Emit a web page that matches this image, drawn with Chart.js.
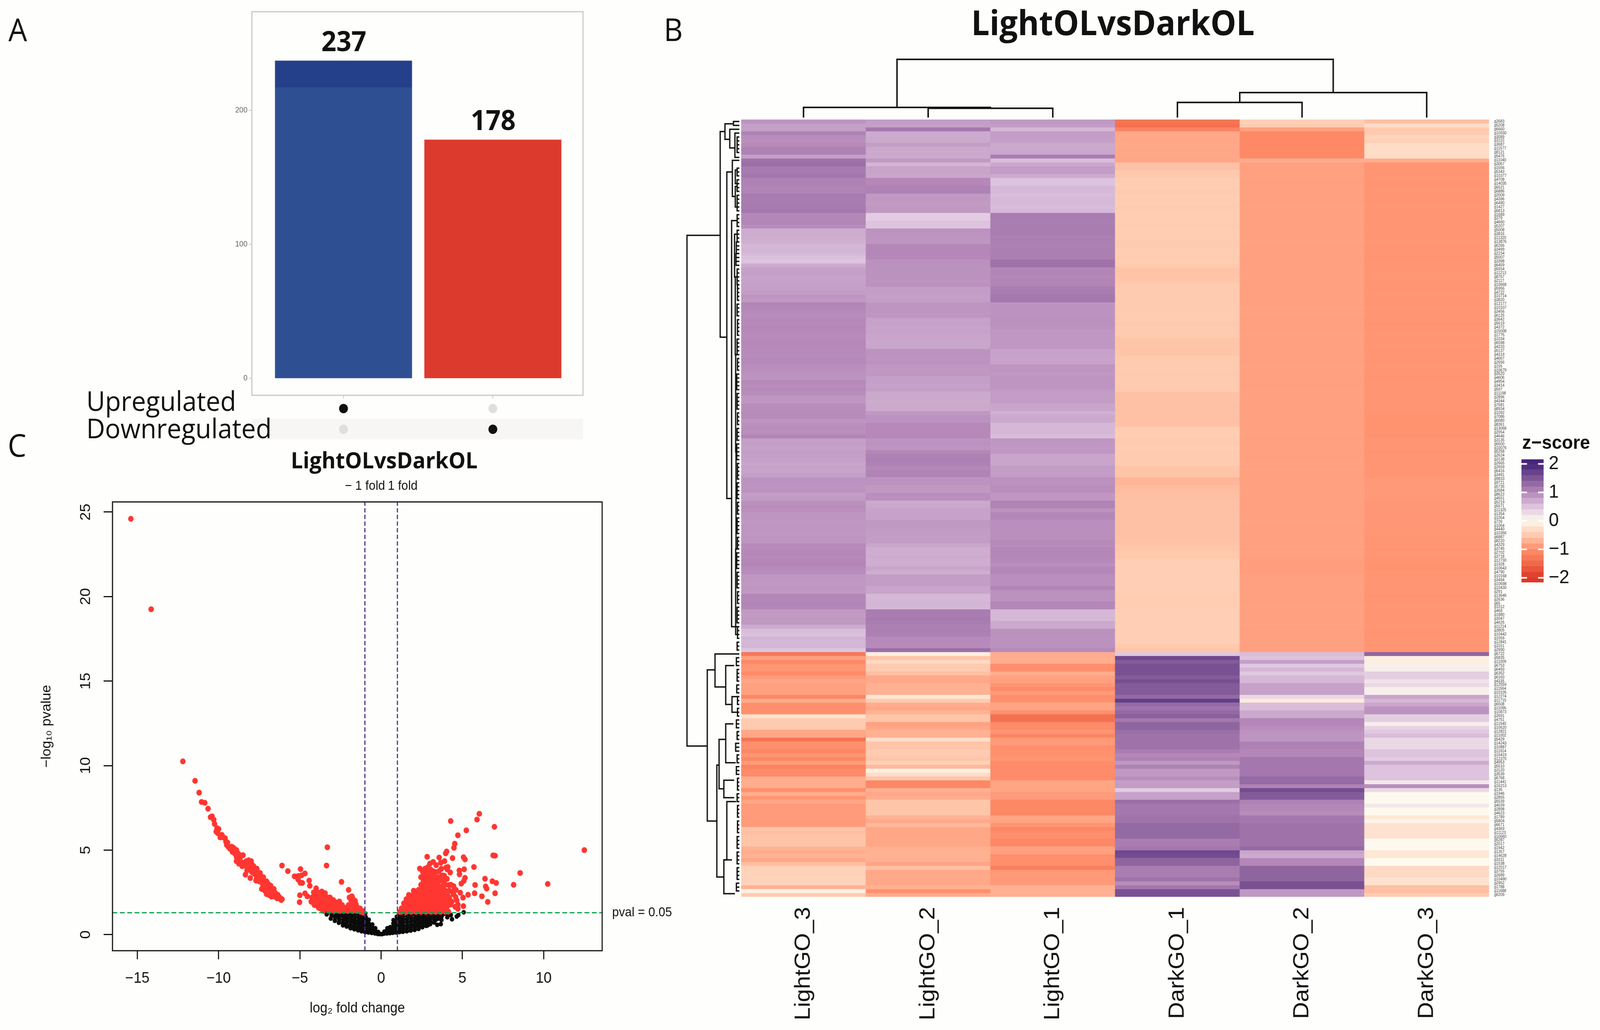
<!DOCTYPE html>
<html>
<head>
<meta charset="utf-8">
<title>LightOLvsDarkOL</title>
<script src="https://cdn.jsdelivr.net/npm/chart.js@4"></script>
<style>
  html { background: #fefefc; }
  body { margin: 0; width: 4339px; height: 2637px; transform-origin: 0 0; }
  canvas { position: absolute; }
  .t { position: absolute; z-index: 2; transform: translate(-50%, -50%); white-space: nowrap; color: #111; font-family: "Open Sans", sans-serif; line-height: 1; }
  .l { transform: translate(0, -50%); }
  .b { font-weight: 700; }
</style>
</head>
<body>
<div class="t" style="left:48px;top:74px;font-size:80px">A</div>
<div class="t" style="left:1826px;top:74px;font-size:80px">B</div>
<div class="t" style="left:46px;top:1138px;font-size:80px">C</div>
<div class="t b" style="left:3018px;top:56px;font-size:88px">LightOLvsDarkOL</div>
<div class="t b" style="left:1042px;top:1177px;font-size:58px">LightOLvsDarkOL</div>
<div class="t l" style="left:234px;top:1025px;font-size:70px">Upregulated</div>
<div class="t l" style="left:234px;top:1095px;font-size:70px">Downregulated</div>
<div class="t l b" style="left:4128px;top:1132px;font-size:49px;font-family:'Liberation Sans'">z−score</div>

<canvas id="barChart" width="1040" height="1020" style="left:560px;top:10px"></canvas>
<canvas id="dotChart" width="898" height="105" style="left:683px;top:1020px"></canvas>
<canvas id="volcanoChart" width="1790" height="1427" style="left:60px;top:1210px"></canvas>
<canvas id="topDendro" width="2028" height="161" style="left:2010px;top:140px"></canvas>
<canvas id="leftDendro" width="155" height="1990" style="left:1850px;top:306px"></canvas>
<canvas id="heatChart" width="2100" height="2331" style="left:2010px;top:306px"></canvas>
<canvas id="colorbar" width="200" height="360" style="left:4126px;top:1150px"></canvas>

<script>
// the layout below is in reference pixels; fit it if the window came out smaller
document.body.style.transform =
  `scale(${Math.min(1, window.innerWidth / 4339)}, ${Math.min(1, window.innerHeight / 2637)})`;

// ── Panel A: counts ───────────────────────────────────────────
const regulationLabels = ['Upregulated', 'Downregulated'];
const degCounts = [237, 178];
const upBandSplit = 217;          // blue bar turns darker above this count
const barTicks = [0, 100, 200];

// ── Panel C: volcano points [log2 fold change, -log10 pvalue] ─
const foldThresholds = [-1, 1];
const pvalThreshold = 1.3;
const volcanoXTicks = [-15, -10, -5, 0, 5, 10];
const volcanoYTicks = [0, 5, 10, 15, 20, 25];

const redTrail = [
  [-15.4,24.6],[-14.15,19.25],[-12.2,10.25],[-11.45,9.1],[-11.2,8.4],[-11.05,7.85],[-10.85,7.8],[-10.65,7.45],
  [-10.5,6.95],[-10.4,7.0],[-10.3,6.8],[-10.25,6.55],[-10.1,6.3],[-10.0,6.25],[-10.15,6.1],[-10.05,6.0],
  [-9.9,5.75],[-9.8,5.9],[-9.7,5.75],[-9.6,5.7],[-9.55,5.5],[-9.45,5.45],[-9.5,5.3],[-9.4,5.2],[-9.3,5.08],
  [-9.2,5.2],[-9.1,5.15],[-9.0,5.05],[-8.9,5.0],[-9.15,4.9],[-9.0,4.8],[-8.85,4.85],[-8.75,4.75],[-8.9,4.6],
  [-8.6,4.65],[-8.5,4.7],[-8.75,4.5],[-8.9,4.35],[-8.75,4.2],[-8.55,4.05],[-8.6,4.3],[-8.15,4.4],[-8.0,4.35],
  [-8.3,4.35],[-8.1,4.2],[-7.95,4.15],[-8.05,3.95],[-7.9,3.95],[-7.85,4.05],[-7.75,3.85],[-7.65,3.9],[-8.35,3.55],
  [-8.05,3.35],[-7.95,3.7],[-7.8,3.6],[-7.6,3.65],[-7.45,3.65],[-7.65,3.4],[-7.4,3.45],[-7.25,3.4],[-7.5,3.15],
  [-7.35,3.25],[-7.2,3.2],[-7.05,3.15],[-7.3,3.0],[-7.15,3.0],[-6.95,3.0],[-6.8,2.9],[-7.25,2.85],[-7.1,2.8],
  [-6.95,2.75],[-6.75,2.75],[-6.6,2.7],[-7.15,2.6],[-7.0,2.55],[-6.8,2.55],[-6.6,2.5],[-7.05,2.4],[-6.9,2.35],
  [-6.75,2.25],[-6.5,2.45],[-6.35,2.35],[-6.4,2.15],[-6.25,2.2],[-6.15,2.05],[-6.1,2.1],
  [-8.45,4.2],[-8.3,4.05],[-8.25,3.8],[-7.7,3.2],[-7.5,3.5],[-7.35,2.7],[-6.55,2.25],[-6.9,2.6],
];
const redLeft = [
  [-6.1,4.09],[-5.74,3.76],[-4.96,3.88],[-4.69,3.62],[-5.33,3.45],[-5.11,3.47],[-4.9,3.51],[-5.11,3.26],[-4.97,3.07],
  [-4.85,3.06],[-4.43,3.2],[-4.39,2.89],[-4.0,2.74],[-3.31,5.17],[-3.36,4.09],[-2.44,3.12],[-2.0,2.65],[-5.0,2.33],
  [-5.02,1.92],[-4.68,2.44],[-4.54,2.27],[-4.25,2.2],[-4.15,2.5],[-4.1,2.1],[-4.1,1.75],[-4.0,2.4],[-3.95,2.0],
  [-3.9,1.75],[-3.85,2.25],[-3.75,1.95],[-3.75,1.55],[-3.7,2.35],[-3.65,2.55],[-3.6,2.1],[-3.6,1.75],[-3.55,1.4],
  [-3.5,2.3],[-3.4,1.95],[-3.4,1.55],[-3.3,2.2],[-3.25,1.8],[-3.2,1.4],[-3.15,2.2],[-3.05,1.95],[-3.05,1.6],
  [-2.95,1.75],[-2.9,1.4],[-2.8,1.75],[-2.75,1.5],[-2.65,1.65],[-2.55,1.4],[-2.45,1.55],[-2.3,1.4],[-2.2,1.45],
  [-2.05,1.4],[-4.2,1.9],[-2.57,1.96],[-2.0,1.75],[-1.95,1.45],[-1.9,1.6],[-1.85,2.05],[-1.85,1.85],[-1.8,2.27],
  [-1.75,1.4],[-1.7,1.95],[-1.65,1.6],[-1.55,1.8],[-1.5,1.4],[-1.45,1.6],[-1.3,1.55],[-1.25,1.35],[-1.15,1.4],[-1.1,1.3],
  [-4.3,1.95],[-3.85,1.6],[-3.9,2.5],[-3.45,2.45],[-3.6,1.45],[-3.3,1.65],[-3.1,1.45],[-2.95,2.05],[-2.85,1.95],
  [-3.45,1.7],[-3.25,2.0],[-2.65,1.45],[-2.4,1.75],[-2.15,1.6],[-1.95,2.2],[-1.75,2.15],[-1.6,2.0],
];
const redRight = [
  [6.04,7.15],[5.9,6.81],[4.28,6.72],[6.97,6.38],[5.24,6.17],[4.72,5.88],[4.53,5.38],[4.48,5.14],[4.03,4.92],[3.97,4.81],
  [2.83,4.61],[3.57,4.56],[4.39,4.53],[5.07,4.58],[5.16,4.45],[6.89,4.69],[7.01,4.67],[3.9,4.35],[3.67,4.26],[3.39,4.11],
  [2.38,3.91],[2.87,3.99],[5.71,4.0],[5.11,3.87],[4.81,3.8],[4.82,3.57],[4.0,3.97],[4.1,4.0],[4.07,3.86],[4.25,3.68],
  [3.88,3.49],[5.16,3.36],[5.09,3.18],[4.93,3.02],[6.39,3.31],[6.84,3.16],[7.08,3.06],[5.78,2.94],[8.15,2.95],[8.55,3.65],
  [10.25,3.0],[12.5,5.0],[6.43,2.85],[6.49,2.73],[5.75,2.45],[7.01,2.45],[5.35,2.36],[6.2,2.27],[6.56,1.94],[4.46,2.87],
  [4.17,2.93],[4.87,2.48],[5.04,2.19],[4.58,2.23],[4.2,2.19],[4.65,2.03],[4.72,1.78],[5.06,1.69],[4.72,1.53],[4.26,1.78],
  [4.03,1.61],[4.14,1.36],[4.38,2.55],
  [1.15,1.35],[1.25,1.35],[1.25,1.55],[1.4,1.4],[1.4,1.65],[1.4,1.85],[1.55,1.35],[1.55,1.6],[1.55,1.85],[1.55,2.1],
  [1.7,1.4],[1.7,1.65],[1.7,1.9],[1.7,2.15],[1.7,2.35],[1.85,1.35],[1.85,1.6],[1.85,1.85],[1.85,2.1],[1.85,2.3],
  [2.0,1.4],[2.0,1.65],[2.0,1.9],[2.0,2.15],[2.0,2.4],[2.0,2.6],[2.15,1.35],[2.15,1.6],[2.15,1.85],[2.15,2.1],[2.15,2.35],[2.15,2.55],
  [2.3,1.4],[2.3,1.65],[2.3,1.9],[2.3,2.15],[2.3,2.4],[2.3,2.65],[2.45,1.35],[2.45,1.6],[2.45,1.85],[2.45,2.1],[2.45,2.35],[2.45,2.6],[2.45,2.95],[2.45,3.4],
  [2.6,1.4],[2.6,1.65],[2.6,1.9],[2.6,2.15],[2.6,2.4],[2.6,2.65],[2.6,2.9],[2.6,3.15],[2.6,3.55],
  [2.75,1.35],[2.75,1.6],[2.75,1.85],[2.75,2.1],[2.75,2.35],[2.75,2.6],[2.75,2.85],[2.75,3.1],[2.75,3.35],[2.75,3.65],
  [2.9,1.4],[2.9,1.65],[2.9,1.9],[2.9,2.15],[2.9,2.4],[2.9,2.65],[2.9,2.9],[2.9,3.15],[2.9,3.4],[2.9,3.75],
  [3.05,1.35],[3.05,1.6],[3.05,1.85],[3.05,2.1],[3.05,2.35],[3.05,2.6],[3.05,2.85],[3.05,3.1],[3.05,3.35],[3.05,3.6],[3.05,3.85],
  [3.2,1.4],[3.2,1.65],[3.2,1.9],[3.2,2.15],[3.2,2.4],[3.2,2.65],[3.2,2.9],[3.2,3.15],[3.2,3.45],[3.2,3.75],
  [3.35,1.35],[3.35,1.6],[3.35,1.85],[3.35,2.1],[3.35,2.35],[3.35,2.6],[3.35,2.85],[3.35,3.1],[3.35,3.35],[3.35,3.7],
  [3.5,1.4],[3.5,1.65],[3.5,1.9],[3.5,2.15],[3.5,2.4],[3.5,2.65],[3.5,2.9],[3.5,3.15],[3.5,3.4],
  [3.65,1.35],[3.65,1.6],[3.65,1.9],[3.65,2.2],[3.65,2.5],[3.65,2.8],[3.65,3.2],
  [3.8,1.4],[3.8,1.75],[3.8,2.05],[3.8,2.4],[3.8,2.65],[3.8,2.9],
  [3.95,1.35],[3.95,1.75],[3.95,2.25],[3.95,2.6],[4.1,2.3],
  [3.55,3.75],[3.7,3.9],[3.75,3.5],[3.9,3.2],[4.05,3.3],[3.95,2.95],[4.2,2.6],[4.3,2.95],[4.45,2.4],[4.1,1.95],
  [3.95,2.05],[4.35,1.95],[3.85,1.55],[4.0,1.4],[4.55,1.65],[4.6,2.65],[3.2,4.3],[3.0,4.2],[2.7,3.9],[2.55,3.75],
];
const blackPoints = [
  [-3.35,1.2],[-3.3,1.28],[-3.1,0.95],[-3.05,1.12],[-3.05,1.28],[-2.85,0.82],[-2.82,1.0],[-2.8,1.15],[-2.8,1.28],
  [-2.6,0.7],[-2.58,0.88],[-2.58,1.05],[-2.55,1.2],[-2.55,1.28],[-2.35,0.55],[-2.35,0.72],[-2.33,0.9],[-2.33,1.08],[-2.3,1.26],
  [-2.12,0.48],[-2.12,0.65],[-2.1,0.82],[-2.1,1.0],[-2.08,1.16],[-2.08,1.28],[-1.88,0.38],[-1.88,0.56],[-1.86,0.74],[-1.86,0.92],[-1.85,1.1],[-1.85,1.27],
  [-1.65,0.32],[-1.65,0.5],[-1.63,0.68],[-1.63,0.86],[-1.62,1.04],[-1.62,1.22],[-1.42,0.26],[-1.42,0.44],[-1.4,0.62],[-1.4,0.8],[-1.38,0.98],[-1.38,1.16],[-1.38,1.28],
  [-1.2,0.2],[-1.2,0.38],[-1.18,0.56],[-1.18,0.74],[-1.16,0.92],[-1.16,1.1],[-1.15,1.27],[-0.98,0.15],[-0.98,0.32],[-0.96,0.5],[-0.96,0.68],[-0.95,0.86],[-0.95,1.05],[-0.98,1.25],
  [-0.78,0.13],[-0.78,0.3],[-0.76,0.48],[-0.76,0.66],[-0.76,0.88],[-0.58,0.1],[-0.58,0.26],[-0.56,0.44],[-0.54,0.6],[-0.38,0.07],[-0.36,0.22],[-0.36,0.38],[-0.2,0.04],[-0.18,0.16],[-0.05,0.03],
  [0.05,0.03],[0.18,0.06],[0.2,0.18],[0.36,0.07],[0.36,0.22],[0.38,0.38],[0.54,0.09],[0.54,0.26],[0.56,0.44],[0.72,0.11],[0.72,0.28],[0.74,0.46],[0.75,0.66],[0.76,0.86],
  [0.92,0.13],[0.92,0.3],[0.94,0.48],[0.94,0.66],[0.95,0.86],[0.96,1.06],[1.12,0.15],[1.12,0.32],[1.14,0.5],[1.14,0.68],[1.15,0.86],[1.15,1.04],[1.16,1.22],
  [1.34,0.17],[1.34,0.34],[1.35,0.52],[1.35,0.7],[1.36,0.88],[1.36,1.06],[1.36,1.26],[1.58,0.2],[1.58,0.38],[1.6,0.56],[1.6,0.74],[1.6,0.92],[1.62,1.1],[1.62,1.28],
  [1.82,0.24],[1.82,0.42],[1.84,0.6],[1.84,0.78],[1.85,0.96],[1.85,1.14],[1.85,1.28],[2.06,0.28],[2.06,0.46],[2.08,0.64],[2.08,0.82],[2.1,1.0],[2.1,1.18],[2.1,1.28],
  [2.3,0.34],[2.3,0.52],[2.32,0.7],[2.32,0.88],[2.34,1.06],[2.34,1.24],[2.54,0.44],[2.54,0.62],[2.56,0.8],[2.56,0.98],[2.58,1.16],[2.58,1.28],
  [2.78,0.52],[2.78,0.7],[2.8,0.88],[2.8,1.06],[2.82,1.24],[2.86,0.55],[3.02,0.62],[3.02,0.8],[3.04,0.98],[3.04,1.16],[3.06,1.28],
  [3.26,0.72],[3.28,0.9],[3.28,1.08],[3.3,1.26],[3.45,0.58],[3.67,0.62],[3.71,0.87],[3.35,0.87],[3.5,0.95],[3.52,1.12],[3.57,1.2],[3.72,1.08],[3.88,1.24],
  [4.36,0.91],[4.07,1.03],[4.29,1.16],[4.65,1.07],[4.75,1.16],[5.08,1.32],[4.1,1.2],
];

// ── Panel B: heatmap, one z-score per gene (top to bottom) ────
const sampleLabels = ['LightGO_3', 'LightGO_2', 'LightGO_1', 'DarkGO_1', 'DarkGO_2', 'DarkGO_3'];
const geneLabels = [
  'g2683','g5208','g6660','g10930','g3089','g3110','g3687','g11577','g8121','g5475',
  'g11040','g3067','g1556','g5343','g10377','g4708','g14035','g6521','g6886','g2009',
  'g4396','g6490','g1427','g6813','g1689','g379','g4660','g5207','g5008','g3816',
  'g11320','g13876','g6266','g3499','g2234','g5007','g3398','g6459','g5554','g11213',
  'g8767','g2117','g10668','g5956','g4722','g10714','g3820','g12177','g10107','g3456',
  'g6125','g3642','g5619','g4372','g15008','g1775','g1034','g6598','g4233','g5137',
  'g4319','g4667','g2656','g155','g10679','g3520','g4606','g4954','g3414','g597',
  'g11198','g2896','g4344','g7681','g8934','g1092','g7086','g6680','g8361','g13068',
  'g2054','g4646','g3135','g6500','g10076','g5258','g2624','g3138','g2665','g2659',
  'g6416','g3491','g9833','g9721','g5735','g3584','g8622','g4551','g5219','g5571',
  'g11325','g1354','g1054','g726','g1064','g4440','g10356','g6887','g8220','g4329',
  'g3745','g2702','g3718','g12730','g1928','g10643','g4790','g10168','g3494','g10698',
  'g10430','g291','g13646','g2636','g65','g1012','g468','g1880','g3047','g4626',
  'g11214','g3805','g10442','g1059','g12841','g3151','g2990','g6722','g5835','g11009',
  'g6753','g6493','g6352','g6160','g4335','g12559','g11564','g10105','g12274','g11715',
  'g6508','g11096','g10873','g2691','g4751','g11540','g10620','g12821','g11002','g5429',
  'g14243','g10887','g11914','g15419','g12370','g4953','g5510','g3120','g3539','g6768',
  'g11441','g16213','g136','g1946','g2855','g5539','g4039','g2898','g4623','g1789',
  'g5804','g6671','g4369','g11123','g10660','g5287','g2017','g1942','g1357','g14628',
  'g3311','g1538','g12017','g3755','g2689','g10490','g2952','g1788','g11688','g6209',
];
const lightGO3 = [
  .9,.8,.8,1.05,.95,.93,.97,1.05,1.05,.8,
  1.2,1.25,1.12,1.12,1.15,1.05,1.05,1.03,1.03,1.12,
  1.1,1.12,1.12,1.15,1,1,1.02,.95,.68,.7,
  .68,.66,.6,.62,.58,.52,.5,.7,.78,.8,
  .76,.78,.8,.8,.82,.88,.85,1.02,1,.98,
  .96,.98,.98,1,.98,.96,.98,1,.98,.98,
  .96,.98,.98,.95,.93,.92,.9,.98,.96,.98,
  .95,.87,.87,.95,.95,.97,.97,.88,.93,.95,
  .93,1.02,.8,.8,.78,.8,.8,.78,.75,.78,
  .76,.8,.9,.9,.88,.9,.82,.84,.92,.95,
  .93,.88,.88,.87,.88,.88,.87,.88,.88,.98,
  .98,1,.98,1,1.02,.97,.95,.87,.87,.85,
  .87,.85,1,1,1.02,1,.85,.83,.85,.85,
  .7,.55,.52,.62,.6,.62,.48,-1.3,-.85,-1.1,
  -.95,-.95,-1.05,-.9,-.8,-.85,-.85,-.85,-1.1,-.75,
  -1,-1,-1,-.25,-.5,-.5,-.5,-.8,-.8,-1.35,
  -1,-1,-1.1,-.95,-1.1,-.9,-1.15,-1.05,-1.05,-.75,
  -.75,-.75,-1,-.75,-.95,-.8,-.9,-.9,-.9,-.9,
  -.9,-.9,-.55,-.6,-.55,-.55,-.55,-.7,-.75,-.7,
  -.8,-.6,-.42,-.42,-.42,-.42,-.42,-.7,-.1,-.5,
];
const lightGO2 = [
  .82,.8,1.15,.7,.7,.72,.82,.72,.72,.72,
  .85,.62,.76,.76,.74,1,1,1.05,1.05,.85,
  .85,.83,.85,.85,.42,.42,.5,.5,.9,.9,
  .88,.88,1,1,1,.98,.92,.92,.92,.92,
  .92,.9,.92,.82,.82,.8,.82,.88,.88,.88,
  .88,.78,.78,.76,.78,.75,.75,.73,.75,.9,
  .9,.88,.9,.87,.85,.87,.8,.8,.78,.8,
  .72,.72,.7,.72,.72,.85,.9,.9,.98,.98,
  .98,.98,.9,.9,.88,1,1.05,1.07,1.05,1,
  1.03,1.03,.9,.9,.85,.85,.93,.93,.72,.74,
  .78,.78,.78,.85,.85,.83,.82,.82,.82,.75,
  .68,.68,.7,.68,.68,.75,.68,.82,.82,.82,
  .75,.75,.6,.6,.62,.6,1.1,1.1,1.12,1.1,
  1.08,1.08,1.06,.98,.98,.96,1.25,-.12,-.55,-.35,
  -.5,-.5,-.6,-.78,-.78,-.72,-.72,-.72,-.2,-.5,
  -.75,-.8,-.7,-.55,-.55,-.85,-.8,-.72,-.72,-.3,
  -.55,-.55,-.5,-.5,-.55,-.45,-.65,-.1,-.3,-.55,
  -1.1,-1.1,-.72,-.8,-.75,-.55,-.55,-.55,-.55,-.7,
  -.78,-.65,-.8,-.8,-.8,-.8,-.8,-.72,-.72,-.72,
  -.72,-.82,-.6,-.78,-.78,-.78,-.78,-.72,-1,-.75,
];
const lightGO1 = [
  .85,.82,.6,.82,.82,.8,.72,.72,.74,1.1,
  .55,.72,.82,.82,.7,.5,.5,.58,.58,.56,
  .58,.58,.56,.58,1.1,1.1,1.08,1.1,1.1,1.1,
  1.08,1.08,1.06,1.08,1.08,1.08,1.2,1.2,1.02,1.02,
  1,1.02,1.02,1.1,1.1,1.15,1.15,.9,.9,.9,
  .9,.92,.92,.9,.87,.87,.85,.87,.87,.78,
  .78,.76,.78,.88,.88,.86,.88,.88,.88,.86,
  .82,.82,.82,.75,.75,.66,.72,.72,.6,.6,
  .6,.55,.87,.87,.85,.87,.75,.75,.75,.82,
  .82,.82,.92,.92,.94,.94,.87,.87,1.03,1.03,
  .92,1,1,.93,.93,.93,.93,.93,.97,.97,
  1,1,1,.98,.93,1,1,.93,.93,.93,
  1.02,.92,.92,.92,1,1,.6,.6,.6,.72,
  .72,.92,.92,.9,.92,.92,.97,-.75,-.75,-.75,
  -1,-1,-.75,-.85,-.85,-.95,-1.05,-.9,-1,-1,
  -.82,-.82,-1,-1.4,-1.4,-1.05,-1.05,-.95,-1.12,-.92,
  -.92,-1,-.98,-.98,-.95,-1.05,-1.05,-1.05,-1.05,-1.05,
  -.82,-.82,-.82,-.9,-.9,-1.1,-1.1,-1.1,-1.1,-.82,
  -.82,-.95,-1.1,-1,-1,-1.1,-1.1,-.85,-.85,-1,
  -1,-1,-1.2,-.92,-.92,-.92,-.92,-.72,-.72,-.72,
];
const darkGO1 = [
  -1.35,-1.4,-1.15,-.8,-.8,-.8,-.78,-.8,-.8,-.8,
  -.82,-.58,-.58,-.52,-.52,-.48,-.48,-.48,-.5,-.48,
  -.48,-.48,-.5,-.48,-.48,-.48,-.48,-.5,-.48,-.48,
  -.48,-.5,-.5,-.48,-.48,-.5,-.48,-.5,-.56,-.56,
  -.56,-.54,-.5,-.5,-.5,-.5,-.5,-.5,-.5,-.5,
  -.5,-.5,-.52,-.5,-.5,-.5,-.55,-.55,-.55,-.55,
  -.55,-.5,-.5,-.5,-.5,-.52,-.5,-.5,-.5,-.5,
  -.58,-.58,-.58,-.6,-.58,-.58,-.58,-.58,-.58,-.48,
  -.48,-.48,-.5,-.5,-.48,-.5,-.5,-.5,-.5,-.55,
  -.55,-.55,-.68,-.68,-.62,-.62,-.6,-.6,-.58,-.58,
  -.58,-.58,-.58,-.58,-.58,-.58,-.58,-.58,-.58,-.55,
  -.55,-.52,-.52,-.47,-.47,-.47,-.47,-.47,-.47,-.47,
  -.47,-.47,-.48,-.48,-.48,-.48,-.47,-.47,-.47,-.47,
  -.47,-.47,-.47,-.47,-.47,-.52,-.55,.45,1.65,1.45,
  1.55,1.55,1.55,1.45,1.58,1.45,1.45,1.45,1.3,1.75,
  1.3,1.2,1.3,1.4,1.15,1.35,1.35,1.25,1.2,1.2,
  1.2,1.2,1.1,1,1.05,.85,1.05,.85,.85,.95,
  .82,.82,.42,.78,.78,1.25,1.15,1.15,1.15,1.2,
  1.2,1.3,1.3,1.3,1.3,1.1,1.1,1.15,1.65,1.6,
  1.35,1.35,1.1,1.1,1.1,1.2,.95,1.15,1.55,1.55,
];
const darkGO2 = [
  -.45,-.5,-.85,-1.08,-1.08,-1.08,-1.08,-1.08,-1.08,-1.08,
  -.75,-.85,-.85,-.85,-.85,-.85,-.87,-.85,-.85,-.85,
  -.85,-.85,-.84,-.85,-.85,-.85,-.85,-.86,-.85,-.85,
  -.85,-.84,-.85,-.85,-.85,-.86,-.85,-.85,-.85,-.85,
  -.84,-.85,-.85,-.86,-.85,-.85,-.85,-.85,-.84,-.85,
  -.85,-.85,-.86,-.85,-.85,-.84,-.85,-.85,-.85,-.86,
  -.85,-.85,-.85,-.84,-.85,-.85,-.86,-.85,-.85,-.85,
  -.85,-.84,-.85,-.85,-.85,-.86,-.85,-.85,-.85,-.85,
  -.84,-.85,-.85,-.86,-.85,-.85,-.85,-.85,-.84,-.85,
  -.85,-.85,-.86,-.85,-.85,-.84,-.85,-.85,-.85,-.86,
  -.85,-.85,-.85,-.84,-.85,-.85,-.86,-.85,-.85,-.85,
  -.85,-.84,-.85,-.88,-.88,-.88,-.88,-.85,-.85,-.85,
  -.85,-.85,-.86,-.85,-.85,-.84,-.85,-.85,-.85,-.85,
  -.85,-.85,-.86,-.85,-.85,-.85,-.85,.55,.5,.8,
  .45,.6,.45,.6,.6,.78,.78,.78,.3,-.15,
  .55,.55,.72,.72,1,1,.95,.9,.88,.88,
  1.05,1.05,1,1,1.15,1.15,1.15,1.15,1.15,1.3,
  1.3,1.05,1.6,1.45,1.45,1.05,1,1,.95,1.15,
  1.15,1.2,1.2,1.2,1.2,1.2,1.2,1.3,.75,.7,
  1,1,1.35,1.35,1.35,1.35,1.55,1.55,.85,.85,
];
const darkGO3 = [
  -.6,-.3,-.5,-.5,-.4,-.45,-.32,-.32,-.32,-.32,
  -.75,-.95,-.95,-.95,-.95,-.95,-.96,-.95,-.95,-.95,
  -.95,-.95,-.94,-.95,-.95,-.95,-.95,-.96,-.95,-.95,
  -.95,-.94,-.95,-.95,-.95,-.96,-.95,-.95,-.95,-.95,
  -.94,-.95,-.95,-.96,-.95,-.95,-.95,-.95,-.94,-.95,
  -.95,-.95,-.96,-.95,-.95,-.94,-.95,-.95,-.95,-.96,
  -.95,-.95,-.95,-.94,-.95,-.95,-.96,-.95,-.95,-.95,
  -.95,-.94,-.95,-.95,-.95,-.96,-.97,-.97,-.97,-.97,
  -.97,-.97,-.95,-.95,-.95,-.96,-.95,-.95,-.95,-.95,
  -.95,-.95,-.92,-.92,-.92,-.92,-.92,-.92,-.93,-.93,
  -.93,-.93,-.93,-.93,-.93,-.93,-.94,-.95,-.95,-.95,
  -.95,-.94,-.95,-.96,-.97,-.97,-.95,-.95,-.95,-.95,
  -.95,-.95,-.96,-.95,-.95,-.94,-.95,-.95,-.95,-.95,
  -.95,-.95,-.96,-.95,-.95,-.95,-.95,1.35,-.1,-.12,
  .08,.1,.4,.4,.2,.3,.1,.1,.75,.6,
  .75,.9,.9,.4,.4,.1,.35,.45,.55,.3,
  .3,.3,.5,.5,.42,.7,.5,.5,.5,.5,
  .15,.95,.3,0,0,0,.15,0,0,-.2,
  -.05,-.25,-.25,-.25,-.25,0,0,0,-.2,-.2,
  0,0,-.35,-.35,-.35,-.25,-.25,-.6,-.6,-.5,
];
const heatColumns = [lightGO3, lightGO2, lightGO1, darkGO1, darkGO2, darkGO3];
const colorbarTicks = [-2, -1, 0, 1, 2];
const colorbarEdges = [-2.16,-2,-1.8,-1.6,-1.4,-1.2,-1,-.8,-.6,-.4,-.2,0,.2,.4,.6,.8,1,1.2,1.4,1.6,1.8,2,2.16];

// sample tree: [left, right, left height, right height, height]
const sampleMerges = [
  [1, 2, 0, 0, .16],
  [0, 1.5, 0, .16, .175],
  [3, 4, 0, 0, .26],
  [3.5, 5, .26, 0, .43],
  [.75, 4.25, .175, .43, 1],
];
// gene tree: [top row, bottom row, distance, top child distance, bottom child distance]
const geneMerges = [
  [29.3, 160.7, 142, 52, 87],
  [2.6, 55.5, 52, 39, 34],
  [.6, 4.6, 39, 16, 26],
  [0, 1, 16, 0, 0],
  [2, 6.8, 26, 0, 12],
  [3, 9.25, 12, 0, 0],
  [13, 97, 34, 19, 21],
  [10, 19.3, 19, 0, 11],
  [12.5, 16, 11, 6, 6],
  [16.7, 22, 11, 6, 6],
  [25.5, 130, 21, 6, 6],
  [29, 40, 13, 6, 6],
  [40, 60, 11, 5, 6],
  [60, 85, 10, 6, 7],
  [85, 110, 9, 6, 5],
  [110, 132, 10, 6, 6],
  [141.1, 180, 87, 66, 61],
  [137, 145.5, 66, 0, 37],
  [140, 150, 37, 14, 20],
  [148, 152, 20, 5, 5],
  [165.6, 194.4, 61, 55, 42],
  [159, 171.7, 55, 37, 42],
  [155, 165, 37, 16, 10],
  [169.5, 174, 42, 14, 14],
  [190, 198.7, 42, 20, 12],
  [175, 190, 34, 9, 42],
];
// leaf groups: [first row, last row, distance]
const geneGroups = [
  [4,8,6],[12,14,6],[15,18,6],[19,23,6],[24,27,6],[28,31,6],[31,34,8],[34,37,9],[38,42,6],[42,46,5],
  [47,50,6],[51,55,5],[56,60,6],[61,64,5],[65,69,7],[70,74,6],[75,78,5],[79,82,6],[83,87,7],[88,92,5],
  [93,97,6],[98,101,5],[102,106,6],[107,110,5],[111,115,7],[116,120,6],[121,124,5],[125,129,6],[130,133,5],[134,136,6],
  [138,140,8],[141,144,6],[145,147,7],[148,150,5],[151,153,5],[154,156,8],[157,159,6],[160,162,10],[163,165,6],[166,168,8],
  [169,172,5],[173,175,6],[176,179,5],[180,183,5],[184,187,6],[188,191,6],[192,195,6],[196,198,8],
];

// ── Colours ───────────────────────────────────────────────────
const zStops = [
  [-2.16,[220,56,40]],[-2,[220,56,40]],[-1.5,[240,106,74]],[-1,[255,143,108]],[-.5,[255,203,176]],[0,[253,249,238]],
  [.5,[221,195,222]],[1,[180,135,184]],[1.5,[127,86,150]],[2,[69,37,122]],[2.16,[69,37,122]],
];
function zColor(z) {
  let i = 0;
  while (i < zStops.length - 2 && z > zStops[i + 1][0]) i++;
  const [z0, c0] = zStops[i];
  const [z1, c1] = zStops[i + 1];
  const f = Math.min(1, Math.max(0, (z - z0) / (z1 - z0)));
  const c = c0.map((v, k) => Math.round(v + (c1[k] - v) * f));
  return `rgb(${c[0]},${c[1]},${c[2]})`;
}

// ── Common defaults ───────────────────────────────────────────
Chart.defaults.animation = false;
Chart.defaults.responsive = false;
Chart.defaults.devicePixelRatio = 1;
Chart.defaults.layout.autoPadding = false;
Chart.defaults.plugins.legend.display = false;
Chart.defaults.plugins.tooltip.enabled = false;
Chart.defaults.font.family = "'Liberation Sans', sans-serif";
Chart.defaults.color = '#111';

const fixAxis = (size) => (s) => {
  if (s.isHorizontal()) s.height = size; else s.width = size;
  s.paddingLeft = s.paddingRight = s.paddingTop = s.paddingBottom = 0;
};
const frame = (color, width) => ({
  id: 'frame',
  afterDatasetsDraw(chart) {
    const { ctx, chartArea: a } = chart;
    ctx.save();
    ctx.strokeStyle = color;
    ctx.lineWidth = width;
    ctx.strokeRect(a.left, a.top, a.right - a.left, a.bottom - a.top);
    ctx.restore();
  },
});
const toXY = ([x, y]) => ({ x, y });

// ── Panel A: bars ─────────────────────────────────────────────
new Chart(document.getElementById('barChart'), {
  type: 'bar',
  data: {
    datasets: [
      { data: [{ x: 0, y: upBandSplit }], backgroundColor: '#2e5092' },
      { data: [{ x: 0, y: degCounts[0] - upBandSplit }], backgroundColor: '#25408a' },
      { data: [{ x: 1, y: degCounts[1] }], backgroundColor: '#dd3a2e' },
    ],
  },
  options: {
    layout: { padding: { top: 20, right: 19 } },
    datasets: { bar: { barThickness: 371, borderWidth: 0 } },
    scales: {
      x: {
        type: 'linear', stacked: true, offset: false, min: -0.6136, max: 1.6037,
        afterFit: fixAxis(18),
        border: { display: false },
        grid: { offset: false, drawOnChartArea: false, tickLength: 8, tickColor: '#c4c4c4', tickWidth: 2 },
        ticks: { stepSize: 1, includeBounds: false, display: false },
      },
      y: {
        stacked: true, min: -12.7, max: 273.6,
        afterFit: fixAxis(123),
        border: { display: false },
        grid: { drawOnChartArea: false, tickLength: 8, tickColor: '#c4c4c4', tickWidth: 2 },
        afterBuildTicks: (s) => { s.ticks = barTicks.map((value) => ({ value })); },
        ticks: { color: '#666', font: { size: 20 }, padding: 4 },
      },
    },
  },
  plugins: [frame('#c8c8c8', 3), {
    id: 'barValues',
    afterDatasetsDraw(chart) {
      const { ctx, scales } = chart;
      ctx.save();
      ctx.font = "700 71px 'Open Sans', sans-serif";
      ctx.fillStyle = '#111';
      ctx.textAlign = 'center';
      ctx.textBaseline = 'middle';
      degCounts.forEach((v, i) => {
        ctx.fillText(String(v), scales.x.getPixelForValue(i) + 1, scales.y.getPixelForValue(v) - 45);
      });
      ctx.restore();
    },
  }],
});

// ── Panel A: membership dots ──────────────────────────────────
const memberRows = regulationLabels.map((_, i) => 1 - i);
new Chart(document.getElementById('dotChart'), {
  type: 'scatter',
  data: {
    datasets: regulationLabels.map((label, col) => ({
      label,
      data: memberRows.map((y) => ({ x: col, y })),
      pointRadius: 12,
      pointBorderWidth: 0,
      pointBackgroundColor: memberRows.map((y, row) => (row === col ? '#111' : '#e0dfdf')),
    })),
  },
  options: {
    scales: {
      x: { type: 'linear', display: false, min: -0.6136, max: 1.6037 },
      y: { display: false, min: -0.49, max: 1.49 },
    },
  },
  plugins: [{
    id: 'rowBand',
    beforeDatasetsDraw(chart) {
      const { ctx, chartArea: a, scales } = chart;
      ctx.fillStyle = '#f8f6f4';
      const y = scales.y.getPixelForValue(0.5);
      ctx.fillRect(a.left, y, a.right - a.left, a.bottom - y);
    },
  }],
});

// ── Panel C: volcano ──────────────────────────────────────────
const xLo = -16.53, xHi = 13.6, yLo = -0.95, yHi = 25.6;
const guide = (points, color, dash) => ({
  data: points,
  showLine: true,
  pointRadius: 0,
  borderColor: color,
  borderWidth: 3,
  borderDash: dash,
});
new Chart(document.getElementById('volcanoChart'), {
  type: 'scatter',
  data: {
    datasets: [
      guide([{ x: xLo, y: pvalThreshold }, { x: xHi, y: pvalThreshold }], '#00a04a', [13, 7]),
      ...foldThresholds.map((x) => guide([{ x, y: yLo }, { x, y: yHi }], '#4b2a80', [11, 6])),
      { data: [...redTrail, ...redLeft, ...redRight].map(toXY), pointRadius: 7.5, pointBorderWidth: 0, pointBackgroundColor: '#ff3631' },
      { data: blackPoints.map(toXY), pointRadius: 6, pointBorderWidth: 0, pointBackgroundColor: '#0b0b0b' },
    ],
  },
  options: {
    layout: { padding: { top: 75, right: 217 } },
    scales: {
      x: {
        type: 'linear', min: xLo, max: xHi,
        afterFit: fixAxis(203),
        border: { display: false },
        grid: { drawOnChartArea: false, tickLength: 22, tickColor: '#111', tickWidth: 3 },
        afterBuildTicks: (s) => { s.ticks = volcanoXTicks.map((value) => ({ value })); },
        ticks: {
          color: '#111', font: { size: 39 }, padding: 26, maxRotation: 0,
          callback: (v) => String(v).replace('-', '−'),
        },
        title: { display: true, text: 'log₂ fold change', color: '#111', font: { size: 36 }, padding: { top: 0, bottom: 33 } },
      },
      y: {
        min: yLo, max: yHi,
        afterFit: fixAxis(245),
        border: { display: false },
        grid: { drawOnChartArea: false, tickLength: 24, tickColor: '#111', tickWidth: 3 },
        afterBuildTicks: (s) => { s.ticks = volcanoYTicks.map((value) => ({ value })); },
        ticks: { display: false },
        title: { display: true, text: '−log₁₀ pvalue', color: '#111', font: { size: 36 }, padding: { top: 45, bottom: 0 } },
      },
    },
  },
  plugins: [frame('#111', 3), {
    id: 'volcanoText',
    afterDraw(chart) {
      const { ctx, scales, canvas } = chart;
      const left = parseInt(canvas.style.left, 10);
      const top = parseInt(canvas.style.top, 10);
      ctx.save();
      ctx.fillStyle = '#111';
      ctx.textBaseline = 'middle';
      // R style y tick labels, rotated
      ctx.font = "39px 'Liberation Sans', sans-serif";
      ctx.textAlign = 'center';
      volcanoYTicks.forEach((v) => {
        ctx.save();
        ctx.translate(233 - left, scales.y.getPixelForValue(v));
        ctx.rotate(-Math.PI / 2);
        ctx.fillText(String(v), 0, 0);
        ctx.restore();
      });
      ctx.font = "33px 'Liberation Sans', sans-serif";
      ctx.fillText('− 1 fold', scales.x.getPixelForValue(foldThresholds[0]), 1245 - top);
      ctx.textAlign = 'left';
      ctx.fillText('1 fold', scales.x.getPixelForValue(foldThresholds[1]) - 26, 1245 - top);
      ctx.fillText('pval = 0.05', 1660 - left, scales.y.getPixelForValue(pvalThreshold));
      ctx.restore();
    },
  }],
});

// ── Panel B: heatmap, one stacked dataset per gene ────────────
new Chart(document.getElementById('heatChart'), {
  type: 'bar',
  data: {
    labels: sampleLabels,
    datasets: geneLabels.map((gene, row) => ({
      label: gene,
      data: sampleLabels.map(() => 1),
      backgroundColor: heatColumns.map((col) => zColor(col[row])),
      borderWidth: 0,
      barPercentage: 1,
      categoryPercentage: 1,
    })),
  },
  options: {
    scales: {
      x: {
        stacked: true,
        afterFit: fixAxis(341),
        border: { display: false },
        grid: { display: false, drawTicks: false },
        ticks: { color: '#111', font: { size: 60 }, padding: 26, minRotation: 90, maxRotation: 90, autoSkip: false },
      },
      y: { stacked: true, display: false, min: 0, max: geneLabels.length, reverse: true },
      genes: {
        type: 'category',
        labels: geneLabels,
        position: 'right',
        offset: true,
        afterFit: fixAxis(72),
        border: { display: false },
        grid: { display: false, drawTicks: false },
        ticks: { color: '#333', font: { size: 10 }, padding: 14, autoSkip: false, maxRotation: 0 },
      },
    },
  },
});

// ── Panel B: dendrograms ──────────────────────────────────────
const treeLine = (data, width) => ({ data, showLine: true, pointRadius: 0, borderColor: '#111', borderWidth: width, clip: false });

new Chart(document.getElementById('topDendro'), {
  type: 'scatter',
  data: {
    datasets: sampleMerges.map(([l, r, hl, hr, h]) => treeLine(
      [{ x: l, y: hl }, { x: l, y: h }, { x: r, y: h }, { x: r, y: hr }], 4)),
  },
  options: {
    scales: {
      x: { type: 'linear', display: false, min: -0.5, max: 5.5 },
      y: { display: false, min: 0, max: 1.08 },
    },
  },
});

const groupPath = ([first, last, d]) => {
  const pts = [];
  for (let r = first; r <= last; r++) {
    pts.push({ x: d, y: r + .5 }, { x: 0, y: r + .5 }, { x: d, y: r + .5 });
  }
  return pts;
};
new Chart(document.getElementById('leftDendro'), {
  type: 'scatter',
  data: {
    datasets: [
      ...geneMerges.map(([r1, r2, d, d1, d2]) => treeLine([
        { x: d1, y: r1 + .5 }, { x: d, y: r1 + .5 }, { x: d, y: r2 + .5 }, { x: d2, y: r2 + .5 },
      ], 3.5)),
      ...geneGroups.map((g) => treeLine(groupPath(g), 3.5)),
    ],
  },
  options: {
    scales: {
      x: { type: 'linear', display: false, min: 0, max: 155, reverse: true },
      y: { display: false, min: 0, max: geneLabels.length, reverse: true },
    },
  },
});

// ── Panel B: colour key ───────────────────────────────────────
new Chart(document.getElementById('colorbar'), {
  type: 'bar',
  data: {
    labels: ['z-score'],
    datasets: colorbarEdges.slice(1).map((hi, i) => ({
      data: [[colorbarEdges[i], hi]],
      backgroundColor: zColor((colorbarEdges[i] + hi) / 2),
      borderWidth: 0,
      barPercentage: 1,
      categoryPercentage: 1,
      grouped: false,
    })),
  },
  options: {
    layout: { padding: { top: 26, bottom: 19 } },
    scales: {
      x: { display: false },
      y: {
        position: 'right', min: -2.16, max: 2.16,
        afterFit: fixAxis(140),
        border: { display: false },
        grid: { display: false, drawTicks: false },
        afterBuildTicks: (s) => { s.ticks = colorbarTicks.map((value) => ({ value })); },
        ticks: {
          color: '#111', font: { size: 49 }, padding: 14,
          callback: (v) => String(v).replace('-', '−'),
        },
      },
    },
  },
  plugins: [{
    id: 'keyTicks',
    afterDatasetsDraw(chart) {
      const { ctx, chartArea: a, scales } = chart;
      ctx.save();
      ctx.fillStyle = '#fff';
      colorbarTicks.forEach((v) => {
        const y = scales.y.getPixelForValue(v);
        ctx.fillRect(a.left, y - 2, 15, 4);
        ctx.fillRect(a.right - 15, y - 2, 15, 4);
      });
      ctx.restore();
    },
  }],
});
</script>
</body>
</html>
